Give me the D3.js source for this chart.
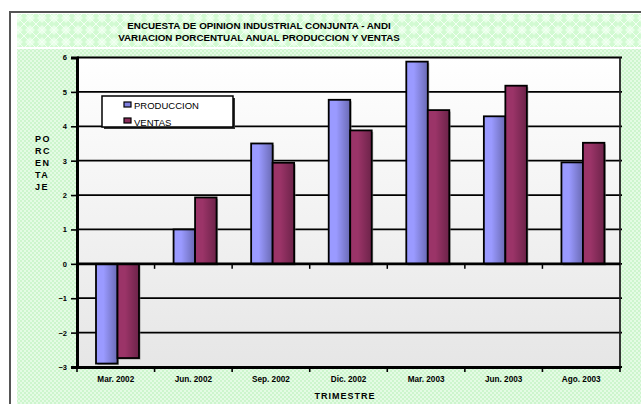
<!DOCTYPE html>
<html>
<head>
<meta charset="utf-8">
<script src="https://cdn.jsdelivr.net/npm/d3@7"></script>
<style>
  body { margin: 0; background: #fff; }
  text { font-family: "Liberation Sans", Arial, sans-serif; }
</style>
</head>
<body>
<script>
// data
var trimestres = ["Mar. 2002", "Jun. 2002", "Sep. 2002", "Dic. 2002", "Mar. 2003", "Jun. 2003", "Ago.  2003"];
var produccion = [-2.9, 1.0, 3.5, 4.77, 5.88, 4.29, 2.95];
var ventas = [-2.74, 1.93, 2.94, 3.88, 4.47, 5.18, 3.52];
var series = ["PRODUCCION", "VENTAS"];
var yTicks = [-3, -2, -1, 0, 1, 2, 3, 4, 5, 6];

var width = 641, height = 404;
var plotLeft = 77, plotRight = 620, plotTop = 57.5, plotBottom = 367;

var svg = d3.select("body")
    .append("svg")
    .attr("width", width)
    .attr("height", height);

var defs = svg.append("defs");

// green patterns (title area and chart area)
var pat1 = defs.append("pattern").attr("id", "greenBig")
    .attr("width", 12).attr("height", 12).attr("patternUnits", "userSpaceOnUse");
pat1.append("rect").attr("width", 12).attr("height", 12).attr("fill", "#d2fad2");
pat1.append("path").attr("d", "M6 1 L11 6 L6 11 L1 6 Z").attr("fill", "#e8ffe8");
pat1.append("path").attr("d", "M0 0 L12 12 M12 0 L0 12").attr("stroke", "#f4fff4").attr("stroke-width", 1);

var pat2 = defs.append("pattern").attr("id", "greenSmall")
    .attr("width", 4).attr("height", 4).attr("patternUnits", "userSpaceOnUse");
pat2.append("rect").attr("width", 4).attr("height", 4).attr("fill", "#e4fbe4");
pat2.append("rect").attr("width", 2).attr("height", 2).attr("fill", "#cdf5cd");
pat2.append("rect").attr("x", 2).attr("y", 2).attr("width", 2).attr("height", 2).attr("fill", "#cdf5cd");

var bg = defs.append("linearGradient").attr("id", "plotBg")
    .attr("x1", 0).attr("y1", 0).attr("x2", 0).attr("y2", 1);
bg.append("stop").attr("offset", "0%").attr("stop-color", "#ffffff");
bg.append("stop").attr("offset", "100%").attr("stop-color", "#e6e6e6");

function barGrad(id, light, dark) {
    var g = defs.append("linearGradient").attr("id", id)
        .attr("x1", 0).attr("y1", 0).attr("x2", 1).attr("y2", 0);
    g.append("stop").attr("offset", "0%").attr("stop-color", light);
    g.append("stop").attr("offset", "35%").attr("stop-color", light);
    g.append("stop").attr("offset", "100%").attr("stop-color", dark);
}
barGrad("gradProd", "#9a9aff", "#6a6ab4");
barGrad("gradVent", "#9b3468", "#6c2349");

// outer frame
svg.append("rect").attr("x", 10).attr("y", 12).attr("width", 640).attr("height", 400)
    .attr("fill", "#fff").attr("stroke", "#555").attr("stroke-width", 2);
svg.append("rect").attr("x", 17).attr("y", 14).attr("width", 630).attr("height", 33)
    .attr("fill", "url(#greenBig)");
svg.append("rect").attr("x", 17).attr("y", 49).attr("width", 630).attr("height", 360)
    .attr("fill", "url(#greenSmall)");

// title
var title = svg.append("text")
    .attr("x", 259).attr("y", 29)
    .attr("text-anchor", "middle")
    .attr("font-size", 9.8).attr("font-weight", "bold");
title.append("tspan").attr("x", 259).text("ENCUESTA DE OPINION INDUSTRIAL CONJUNTA - ANDI");
title.append("tspan").attr("x", 259).attr("dy", 11.5).text("VARIACION PORCENTUAL ANUAL PRODUCCION Y VENTAS");

// scales
var y = d3.scaleLinear().domain([-3, 6]).range([plotBottom, plotTop]);
var x0 = d3.scaleBand().domain(trimestres).range([plotLeft, plotRight]);
var x1 = d3.scaleBand().domain(series).range([19, 62]);

// plot area
svg.append("rect").attr("x", plotLeft).attr("y", plotTop)
    .attr("width", plotRight - plotLeft).attr("height", plotBottom - plotTop)
    .attr("fill", "url(#plotBg)");

// grid lines
svg.append("g").selectAll("line").data(yTicks).enter().append("line")
    .attr("x1", plotLeft).attr("x2", plotRight + 2)
    .attr("y1", d => y(d)).attr("y2", d => y(d))
    .attr("stroke", "#000").attr("stroke-width", 1.8);

// right border
svg.append("line").attr("x1", plotRight).attr("x2", plotRight)
    .attr("y1", plotTop).attr("y2", plotBottom)
    .attr("stroke", "#222").attr("stroke-width", 1.8);

// bars
var rows = trimestres.map((t, i) => ({ t: t, vals: [produccion[i], ventas[i]] }));
var fills = ["url(#gradProd)", "url(#gradVent)"];
var groups = svg.append("g").selectAll("g").data(rows).enter().append("g")
    .attr("transform", d => "translate(" + x0(d.t) + ",0)");
groups.selectAll("rect.shadow")
    .data(d => d.vals.map((v, j) => ({ s: series[j], v: v, j: j })))
    .enter().append("rect").attr("class", "shadow")
    .attr("x", d => x1(d.s) + 1.5)
    .attr("y", d => Math.min(y(d.v), y(0)) + 1.5)
    .attr("width", x1.bandwidth())
    .attr("height", d => Math.abs(y(d.v) - y(0)))
    .attr("fill", "#777").attr("opacity", 0.6);
groups.selectAll("rect.bar")
    .data(d => d.vals.map((v, j) => ({ s: series[j], v: v, j: j })))
    .enter().append("rect").attr("class", "bar")
    .attr("x", d => x1(d.s))
    .attr("y", d => Math.min(y(d.v), y(0)))
    .attr("width", x1.bandwidth())
    .attr("height", d => Math.abs(y(d.v) - y(0)))
    .attr("fill", d => fills[d.j])
    .attr("stroke", "#000").attr("stroke-width", 1.8);

// zero line
svg.append("line").attr("x1", plotLeft).attr("x2", plotRight)
    .attr("y1", y(0)).attr("y2", y(0))
    .attr("stroke", "#000").attr("stroke-width", 2.6);
svg.append("g").selectAll("line").data(trimestres.slice(1)).enter().append("line")
    .attr("x1", d => x0(d)).attr("x2", d => x0(d))
    .attr("y1", y(0)).attr("y2", y(0) + 5)
    .attr("stroke", "#000").attr("stroke-width", 1.5);

// y axis
var yAxis = svg.append("g")
    .attr("transform", "translate(" + plotLeft + ",0)")
    .call(d3.axisLeft(y).tickValues(yTicks).tickSize(6).tickPadding(4).tickFormat(d3.format("d")));
yAxis.select(".domain").attr("stroke-width", 3);
yAxis.selectAll(".tick line").attr("stroke-width", 1.6);
yAxis.selectAll("text").attr("font-size", 7.5).attr("font-weight", "bold")
    .attr("font-family", "Liberation Sans, Arial, sans-serif").attr("fill", "#000");

// x axis
var xAxis = svg.append("g")
    .attr("transform", "translate(0," + plotBottom + ")")
    .call(d3.axisBottom(x0).tickSize(0).tickPadding(9));
xAxis.select(".domain").attr("stroke-width", 3);
xAxis.selectAll("text").attr("font-size", 8.2).attr("font-weight", "bold")
    .attr("font-family", "Liberation Sans, Arial, sans-serif").attr("fill", "#000");
svg.append("g").selectAll("line")
    .data(trimestres.map(d => x0(d)).concat([plotRight])).enter().append("line")
    .attr("x1", d => d).attr("x2", d => d)
    .attr("y1", plotBottom).attr("y2", plotBottom + 5)
    .attr("stroke", "#000").attr("stroke-width", 1.6);

// axis titles
svg.append("text").attr("x", 345).attr("y", 399)
    .attr("text-anchor", "middle").attr("font-size", 9).attr("font-weight", "bold")
    .attr("letter-spacing", 1).text("TRIMESTRE");
var yTitle = ["PO", "RC", "EN", "TA", "JE"];
svg.append("g").selectAll("text").data(yTitle).enter().append("text")
    .attr("x", 35).attr("y", (d, i) => 142 + i * 12)
    .attr("font-size", 9).attr("font-weight", "bold").attr("letter-spacing", 1.5)
    .text(d => d);

// legend
var legend = svg.append("g").attr("transform", "translate(102,96)");
legend.append("rect").attr("x", 2).attr("y", 2).attr("width", 131).attr("height", 31).attr("fill", "#333");
legend.append("rect").attr("width", 131).attr("height", 31)
    .attr("fill", "#fff").attr("stroke", "#000").attr("stroke-width", 1.5);
var legendColors = ["#8080e0", "#8a2c5a"];
series.forEach(function(s, i) {
    legend.append("rect").attr("x", 22).attr("y", 6 + i * 16).attr("width", 7).attr("height", 5)
        .attr("fill", legendColors[i]).attr("stroke", "#000").attr("stroke-width", 1.2);
    legend.append("text").attr("x", 32).attr("y", 13 + i * 16.5)
        .attr("font-size", 9.5).text(s);
});
</script>
</body>
</html>
